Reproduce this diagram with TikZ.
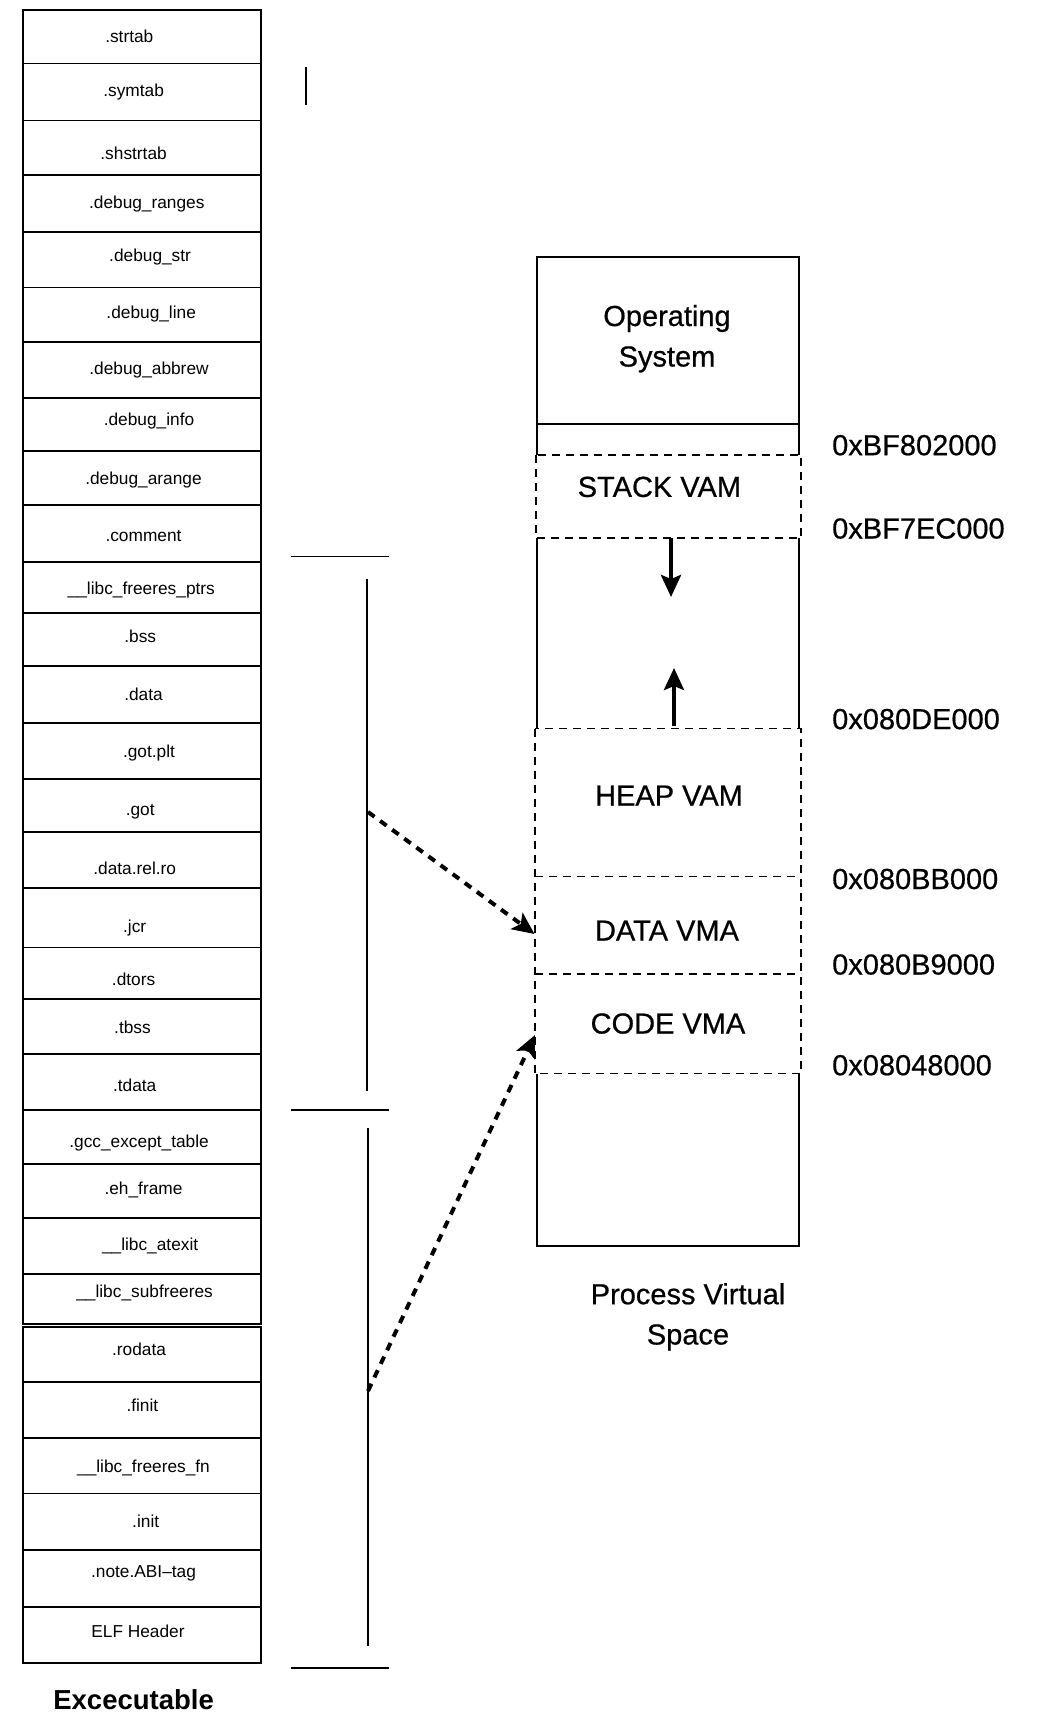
\documentclass[tikz,border=0pt]{standalone}
\usepackage{fontspec}
\setmainfont{Liberation Sans}
\newfontfamily\medfont[FakeBold=0.6]{Liberation Sans}
\usetikzlibrary{arrows.meta}
\begin{document}
\begin{tikzpicture}[x=1pt,y=-1pt,
  rowbox/.style={draw, line width=1.8pt, minimum width=238pt, inner sep=0pt, outer sep=0pt},
  sec/.style={font=\fontsize{17.3}{20}\selectfont, inner sep=0pt, text height=12pt, text depth=0pt, anchor=center},
  big/.style={font=\medfont\fontsize{29}{34}\selectfont, inner sep=0pt, text height=21pt, text depth=0pt},
  addr/.style={big, anchor=west},
  vfill/.style={fill=white, inner sep=0pt, outer sep=0pt},
  vdash/.style={dash pattern=on 8pt off 6pt, line width=1.6pt},
  solidbox/.style={draw, line width=2pt, inner sep=0pt, outer sep=0pt},
  bracket/.style={line width=1.8pt},
  maparrow/.style={line width=4pt, dash pattern=on 8pt off 7pt, -{Stealth[length=22pt,width=20pt,inset=5pt]}},
  growarrow/.style={line width=4pt, -{Stealth[length=22pt,width=20pt,inset=4pt]}},
]
\useasboundingbox[fill=white] (0,0) rectangle (1056,1718);

% ---------- left column (executable sections) ----------
\foreach \t/\b/\n in {10/63.5/1, 63.5/120.5/2, 120.5/175/3, 175/232/4, 232/287.5/5,
  287.5/342/6, 342/398/7, 398/451/8, 451/505/9, 505/562/10, 562/613/11, 613/666/12,
  666/723/13, 723/779/14, 779/832/15, 832/888/16, 888/947.5/17, 947.5/999/18,
  999/1054/19, 1054/1110/20, 1110/1164/21, 1164/1218/22, 1218/1274/23, 1274/1324/24,
  1327/1382/25, 1382/1438/26, 1438/1493.5/27, 1493.5/1550/28, 1550/1607/29, 1607/1663/30}
  \node[rowbox, minimum height={(\b-\t)*1pt}] (r\n) at (142,{(\t+\b)/2}) {};

\foreach \x/\y/\n/\txt in {129.3/36.1/1/.strtab, 133.6/90.9/2/.symtab, 133.6/153.4/3/.shstrtab,
  146.8/202.6/4/.debug\_ranges, 150.1/255.2/5/.debug\_str, 151.2/312.2/6/.debug\_line,
  149/368/7/.debug\_abbrew, 149/419.5/8/.debug\_info, 143.5/478.7/9/.debug\_arange,
  143.5/535.7/10/.comment, 141.3/588.2/11/\_\_libc\_freeres\_ptrs, 140.2/636.4/12/.bss,
  143.5/694.5/13/.data, 149/751.4/14/.got.plt, 140.2/809.5/15/.got,
  134.7/868.7/16/.data.rel.ro, 134.7/926.7/17/.jcr, 133.6/979.3/18/.dtors,
  132.5/1027.5/19/.tbss, 134.7/1085.5/20/.tdata, 139.1/1141.4/21/.gcc\_except\_table,
  143.5/1188.5/22/.eh\_frame, 150.1/1244.4/23/\_\_libc\_atexit,
  144.6/1291.5/24/\_\_libc\_subfreeres, 139.1/1349.5/25/.rodata, 142.4/1405.4/26/.finit,
  143.5/1466.7/27/\_\_libc\_freeres\_fn, 145.7/1521.5/28/.init,
  143.5/1571.9/29/.note.ABI{\textendash}tag, 138/1631/30/ELF Header}
  \node[sec] (l\n) at (\x,\y) {\txt};

\node[font=\bfseries\fontsize{27.5}{32}\selectfont, inner sep=0pt, text height=19.5pt, text depth=0pt] (exe) at (133.6,1700) {Excecutable};

% ---------- bracket lines ----------
\draw[bracket] (306,67) -- (306,105);
\draw[bracket] (291,556.5) -- (389,556.5);
\draw[bracket] (367,579) -- (367,1091);
\draw[bracket] (291,1110) -- (389,1110);
\draw[bracket] (368,1128) -- (368,1646);
\draw[bracket] (291,1668) -- (389,1668);

% ---------- process virtual space ----------
\node[solidbox, minimum width=262pt, minimum height=988.5pt] (pvs) at (668,751.25) {};
\node[solidbox, minimum width=262pt, minimum height=167pt] (os) at (668,340.5) {};

% regions (white fill hides the solid outline under the dashed parts)
\node[vfill, minimum width=265pt, minimum height=83pt] (stack) at (668.5,496.5) {};
\node[vfill, minimum width=266pt, minimum height=148pt] (heap) at (668,802.5) {};
\node[vfill, minimum width=266pt, minimum height=97.5pt] (data) at (668,925.25) {};
\node[vfill, minimum width=266pt, minimum height=99.5pt] (code) at (668,1023.75) {};

\draw[vdash] (stack.north west) rectangle (stack.south east);
\draw[vdash] (heap.north west) rectangle (code.south east);
\draw[vdash] (data.north west) -- (data.north east);
\draw[vdash] (code.north west) -- (code.north east);

\node[big] (os1) at (667,315.5) {Operating};
\node[big] (os2) at (667,356) {System};
\node[big] (stacktxt) at (659.4,486.4) {STACK VAM};
\node[big] (heaptxt) at (669,795) {HEAP VAM};
\node[big] (datatxt) at (667,930) {DATA VMA};
\node[big] (codetxt) at (668,1023) {CODE VMA};

\node[addr] (a1) at (832,444.7) {0xBF802000};
\node[addr] (a2) at (832,528) {0xBF7EC000};
\node[addr] (a3) at (832,718.6) {0x080DE000};
\node[addr] (a4) at (832,878.5) {0x080BB000};
\node[addr] (a5) at (832,964) {0x080B9000};
\node[addr] (a6) at (832,1064.7) {0x08048000};

\node[big] (pv1) at (688,1293.7) {Process Virtual};
\node[big] (pv2) at (688,1334) {Space};

% ---------- arrows ----------
\coordinate (stkfrom) at (671,538);
\coordinate (stkto) at (671,597);
\coordinate (heapfrom) at (674,726);
\coordinate (heapto) at (674,668);
\draw[growarrow] (stkfrom) -- (stkto);
\draw[growarrow] (heapfrom) -- (heapto);

\coordinate (gotsrc) at (368,812);
\coordinate (datadst) at (534.5,934);
\coordinate (rosrc) at (368,1391);
\coordinate (codedst) at (535,1035);
\draw[maparrow] (gotsrc) -- (datadst);
\draw[maparrow] (rosrc) -- (codedst);
\end{tikzpicture}
\end{document}
